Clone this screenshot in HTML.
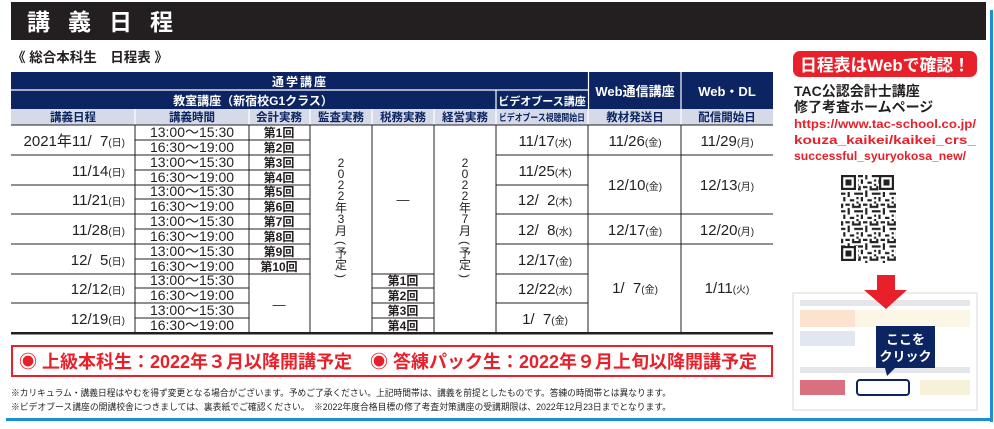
<!DOCTYPE html>
<html><head><meta charset="utf-8"><style>
html,body{margin:0;padding:0;background:#fff;}
svg{display:block;font-family:"Liberation Sans","Noto Sans CJK JP",sans-serif;}
</style></head><body>
<svg width="994" height="429" viewBox="0 0 994 429" xmlns="http://www.w3.org/2000/svg" xml:space="preserve">
<defs>
<pattern id="qr" x="841" y="175" width="17.6" height="17.6" patternUnits="userSpaceOnUse">
<rect width="17.6" height="17.6" fill="#fff"/>
<g fill="#222">
<rect x="0" y="0" width="4.4" height="2.2"/><rect x="6.6" y="0" width="2.2" height="4.4"/><rect x="13.2" y="0" width="4.4" height="2.2"/>
<rect x="2.2" y="4.4" width="2.2" height="4.4"/><rect x="8.8" y="6.6" width="4.4" height="2.2"/><rect x="15.4" y="4.4" width="2.2" height="2.2"/>
<rect x="0" y="11" width="2.2" height="4.4"/><rect x="4.4" y="11" width="4.4" height="2.2"/><rect x="11" y="11" width="2.2" height="4.4"/>
<rect x="6.6" y="15.4" width="2.2" height="2.2"/><rect x="13.2" y="13.2" width="4.4" height="2.2"/><rect x="15.4" y="8.8" width="2.2" height="2.2"/>
</g></pattern>
</defs>
<rect x="11" y="2" width="975" height="38" fill="#231f20"/>
<text x="27" y="30" font-size="23" font-weight="bold" fill="#fff" letter-spacing="18">講義日程</text>
<rect x="990" y="10" width="3" height="412" fill="#1a8fd4"/>
<rect x="6" y="418" width="987" height="3" fill="#1a8fd4"/>

<text x="12" y="62" font-size="13.5" font-weight="bold" fill="#231f20">《 総合本科生　日程表 》</text>

<rect x="11" y="72" width="762" height="37" fill="#0c2461"/>
<rect x="11" y="109" width="762" height="16" fill="#d6dae8"/>
<g stroke="#fff" stroke-width="1.2">
<line x1="11" y1="90" x2="588" y2="90"/>
<line x1="588.5" y1="72" x2="588.5" y2="109"/><line x1="681" y1="72" x2="681" y2="109"/>
<line x1="496" y1="90" x2="496" y2="109"/>
<line x1="135" y1="109" x2="135" y2="125"/><line x1="249" y1="109" x2="249" y2="125"/><line x1="310" y1="109" x2="310" y2="125"/><line x1="372" y1="109" x2="372" y2="125"/><line x1="434" y1="109" x2="434" y2="125"/><line x1="496" y1="109" x2="496" y2="125"/><line x1="588" y1="109" x2="588" y2="125"/><line x1="681" y1="109" x2="681" y2="125"/>
</g>
<g fill="#fff" font-weight="bold" text-anchor="middle">
<text x="300" y="86" font-size="12" letter-spacing="2">通学講座</text>
<text x="253" y="105" font-size="12">教室講座（新宿校G1クラス）</text>
<text x="542" y="105" font-size="11">ビデオブース講座</text>
<text x="635" y="96" font-size="13">Web通信講座</text>
<text x="727" y="96" font-size="13">Web・DL</text>
</g>
<g fill="#0c2461" font-weight="bold" text-anchor="middle" font-size="11.5">
<text x="73" y="121">講義日程</text><text x="192" y="121">講義時間</text><text x="279" y="121">会計実務</text>
<text x="341" y="121">監査実務</text><text x="403" y="121">税務実務</text><text x="465" y="121">経営実務</text>
<text x="542" y="121" font-size="9.5" textLength="86" lengthAdjust="spacingAndGlyphs">ビデオブース視聴開始日</text>
<text x="635" y="121">教材発送日</text><text x="727" y="121">配信開始日</text>
</g>

<g stroke="#231f20" stroke-width="1">
<line x1="11" y1="125" x2="773" y2="125"/>
<line x1="135" y1="125" x2="135" y2="333"/><line x1="249" y1="125" x2="249" y2="333"/><line x1="310" y1="125" x2="310" y2="333"/><line x1="372" y1="125" x2="372" y2="333"/><line x1="434" y1="125" x2="434" y2="333"/><line x1="496" y1="125" x2="496" y2="333"/><line x1="588" y1="125" x2="588" y2="333"/><line x1="681" y1="125" x2="681" y2="333"/>
<line x1="11" y1="155" x2="310" y2="155"/><line x1="11" y1="185" x2="310" y2="185"/><line x1="11" y1="214" x2="310" y2="214"/><line x1="11" y1="244" x2="310" y2="244"/><line x1="11" y1="274" x2="310" y2="274"/><line x1="11" y1="303" x2="249" y2="303"/>
<line x1="135" y1="140" x2="310" y2="140"/><line x1="135" y1="170" x2="310" y2="170"/><line x1="135" y1="199" x2="310" y2="199"/><line x1="135" y1="229" x2="310" y2="229"/><line x1="135" y1="259" x2="310" y2="259"/><line x1="135" y1="288" x2="249" y2="288"/><line x1="135" y1="318" x2="249" y2="318"/>
<line x1="372" y1="274" x2="434" y2="274"/><line x1="372" y1="288" x2="434" y2="288"/><line x1="372" y1="303" x2="434" y2="303"/><line x1="372" y1="318" x2="434" y2="318"/>
<line x1="496" y1="155" x2="773" y2="155"/><line x1="496" y1="185" x2="588" y2="185"/><line x1="496" y1="214" x2="773" y2="214"/><line x1="496" y1="244" x2="773" y2="244"/><line x1="496" y1="274" x2="588" y2="274"/><line x1="496" y1="303" x2="588" y2="303"/>
</g>
<rect x="11" y="332" width="762" height="2.5" fill="#231f20"/>

<g fill="#231f20" font-size="15" text-anchor="end">
<text x="125" y="146">2021年11/&#160;&#160;7<tspan font-size="10">(日)</tspan></text>
<text x="125" y="176">11/14<tspan font-size="10">(日)</tspan></text>
<text x="125" y="205">11/21<tspan font-size="10">(日)</tspan></text>
<text x="125" y="235">11/28<tspan font-size="10">(日)</tspan></text>
<text x="125" y="265">12/&#160;&#160;5<tspan font-size="10">(日)</tspan></text>
<text x="125" y="294">12/12<tspan font-size="10">(日)</tspan></text>
<text x="125" y="324">12/19<tspan font-size="10">(日)</tspan></text>
</g>
<g fill="#231f20" font-size="14" text-anchor="middle">
<text x="192" y="137">13:00〜15:30</text><text x="192" y="152">16:30〜19:00</text>
<text x="192" y="167">13:00〜15:30</text><text x="192" y="182">16:30〜19:00</text>
<text x="192" y="196">13:00〜15:30</text><text x="192" y="211">16:30〜19:00</text>
<text x="192" y="226">13:00〜15:30</text><text x="192" y="241">16:30〜19:00</text>
<text x="192" y="256">13:00〜15:30</text><text x="192" y="271">16:30〜19:00</text>
<text x="192" y="285">13:00〜15:30</text><text x="192" y="300">16:30〜19:00</text>
<text x="192" y="315">13:00〜15:30</text><text x="192" y="330">16:30〜19:00</text>
</g>
<g fill="#231f20" font-size="12" font-weight="bold" text-anchor="middle">
<text x="279" y="137">第1回</text><text x="279" y="152">第2回</text><text x="279" y="167">第3回</text><text x="279" y="182">第4回</text><text x="279" y="196">第5回</text><text x="279" y="211">第6回</text><text x="279" y="226">第7回</text><text x="279" y="241">第8回</text><text x="279" y="256">第9回</text><text x="279" y="271">第10回</text>
<text x="403" y="285">第1回</text><text x="403" y="300">第2回</text><text x="403" y="315">第3回</text><text x="403" y="330">第4回</text>
</g>
<g fill="#231f20" font-size="13" text-anchor="middle">
<text x="279" y="309">—</text><text x="403" y="204">—</text>
</g>
<g fill="#231f20" font-size="12" text-anchor="middle">
<text x="341" y="167">2</text><text x="341" y="178">0</text><text x="341" y="189">2</text><text x="341" y="200">2</text><text x="341" y="212">年</text><text x="341" y="223">3</text><text x="341" y="235">月</text><text transform="translate(341,243) rotate(90)" y="4">(</text><text x="341" y="257">予</text><text x="341" y="269">定</text><text transform="translate(341,276) rotate(90)" y="4">)</text>
<text x="465" y="167">2</text><text x="465" y="178">0</text><text x="465" y="189">2</text><text x="465" y="200">2</text><text x="465" y="212">年</text><text x="465" y="223">7</text><text x="465" y="235">月</text><text transform="translate(465,243) rotate(90)" y="4">(</text><text x="465" y="257">予</text><text x="465" y="269">定</text><text transform="translate(465,276) rotate(90)" y="4">)</text>
</g>
<g fill="#231f20" font-size="15" text-anchor="middle">
<text x="545" y="146">11/17<tspan font-size="10">(水)</tspan></text>
<text x="545" y="176">11/25<tspan font-size="10">(木)</tspan></text>
<text x="545" y="205">12/&#160;&#160;2<tspan font-size="10">(木)</tspan></text>
<text x="545" y="235">12/&#160;&#160;8<tspan font-size="10">(水)</tspan></text>
<text x="545" y="265">12/17<tspan font-size="10">(金)</tspan></text>
<text x="545" y="294">12/22<tspan font-size="10">(水)</tspan></text>
<text x="545" y="324">1/&#160;&#160;7<tspan font-size="10">(金)</tspan></text>
<text x="635" y="146">11/26<tspan font-size="10">(金)</tspan></text>
<text x="635" y="190">12/10<tspan font-size="10">(金)</tspan></text>
<text x="635" y="235">12/17<tspan font-size="10">(金)</tspan></text>
<text x="635" y="293">1/&#160;&#160;7<tspan font-size="10">(金)</tspan></text>
<text x="727" y="146">11/29<tspan font-size="10">(月)</tspan></text>
<text x="727" y="190">12/13<tspan font-size="10">(月)</tspan></text>
<text x="727" y="235">12/20<tspan font-size="10">(月)</tspan></text>
<text x="727" y="293">1/11<tspan font-size="10">(火)</tspan></text>
</g>

<rect x="12" y="346" width="760" height="30" fill="#fff" stroke="#e8202a" stroke-width="2"/>
<text x="19" y="368" font-size="18" font-weight="bold" fill="#e8202a" textLength="738" lengthAdjust="spacingAndGlyphs">◉ 上級本科生：2022年３月以降開講予定　◉ 答練パック生：2022年９月上旬以降開講予定</text>

<g fill="#231f20" font-size="9">
<text x="11" y="396" textLength="660" lengthAdjust="spacingAndGlyphs">※カリキュラム・講義日程はやむを得ず変更となる場合がございます。予めご了承ください。上記時間帯は、講義を前提としたものです。答練の時間帯とは異なります。</text>
<text x="11" y="410" textLength="660" lengthAdjust="spacingAndGlyphs">※ビデオブース講座の開講校舎につきましては、裏表紙でご確認ください。　※2022年度合格目標の修了考査対策講座の受講期限は、2022年12月23日までとなります。</text>
</g>

<rect x="793" y="51" width="184" height="26" rx="7" fill="#e8202a"/>
<text x="885" y="71" font-size="17" font-weight="bold" fill="#fff" text-anchor="middle" textLength="170" lengthAdjust="spacingAndGlyphs">日程表はWebで確認！</text>
<text x="794" y="96" font-size="14" font-weight="bold" fill="#231f20">TAC公認会計士講座</text>
<text x="794" y="112" font-size="14" font-weight="bold" fill="#231f20">修了考査ホームページ</text>
<g fill="#e8202a" font-size="12" font-weight="bold">
<text x="794" y="128" textLength="182" lengthAdjust="spacingAndGlyphs">https://www.tac-school.co.jp/</text>
<text x="794" y="144" textLength="182" lengthAdjust="spacingAndGlyphs">kouza_kaikei/kaikei_crs_</text>
<text x="794" y="160" textLength="172" lengthAdjust="spacingAndGlyphs">successful_syuryokosa_new/</text>
</g>
<rect x="841" y="175" width="55" height="88" fill="url(#qr)"/>
<g fill="#fff"><rect x="841" y="175" width="17" height="17"/><rect x="879" y="175" width="17" height="17"/><rect x="841" y="246" width="17" height="17"/></g>
<g fill="none" stroke="#222" stroke-width="2.2"><rect x="842.1" y="176.1" width="12.8" height="12.8"/><rect x="880.1" y="176.1" width="12.8" height="12.8"/><rect x="842.1" y="247.1" width="12.8" height="12.8"/></g>
<g fill="#222"><rect x="845.5" y="179.5" width="6" height="6"/><rect x="883.5" y="179.5" width="6" height="6"/><rect x="845.5" y="250.5" width="6" height="6"/></g>

<rect x="793" y="293" width="184" height="117" fill="#fff" stroke="#d8d8d8"/>
<rect x="800" y="300" width="170" height="6" fill="#e4e6ea"/>
<rect x="800" y="310" width="55" height="17" fill="#fbe3cf"/><rect x="855" y="310" width="115" height="17" fill="#fbf6e6"/>
<rect x="800" y="331" width="55" height="15" fill="#e1e6f0"/>
<rect x="800" y="367" width="170" height="6" fill="#e4e6ea"/>
<rect x="800" y="380" width="45" height="15" fill="#d9707f"/>
<rect x="857" y="380" width="52" height="15" rx="3" fill="#fff" stroke="#0c2461" stroke-width="2"/>
<rect x="920" y="380" width="50" height="15" fill="#f8f1da"/>
<rect x="876" y="326" width="59" height="42" fill="#0c2461"/>
<polygon points="885,368 895,368 887,376" fill="#0c2461"/>
<text x="905.5" y="344" font-size="13" font-weight="bold" fill="#fff" text-anchor="middle">ここを</text>
<text x="905.5" y="361" font-size="13" font-weight="bold" fill="#fff" text-anchor="middle">クリック</text>
<polygon points="877,275 895,275 895,290 907,290 886,309 864,290 877,290" fill="#e8202a"/>
</svg>
</body></html>
